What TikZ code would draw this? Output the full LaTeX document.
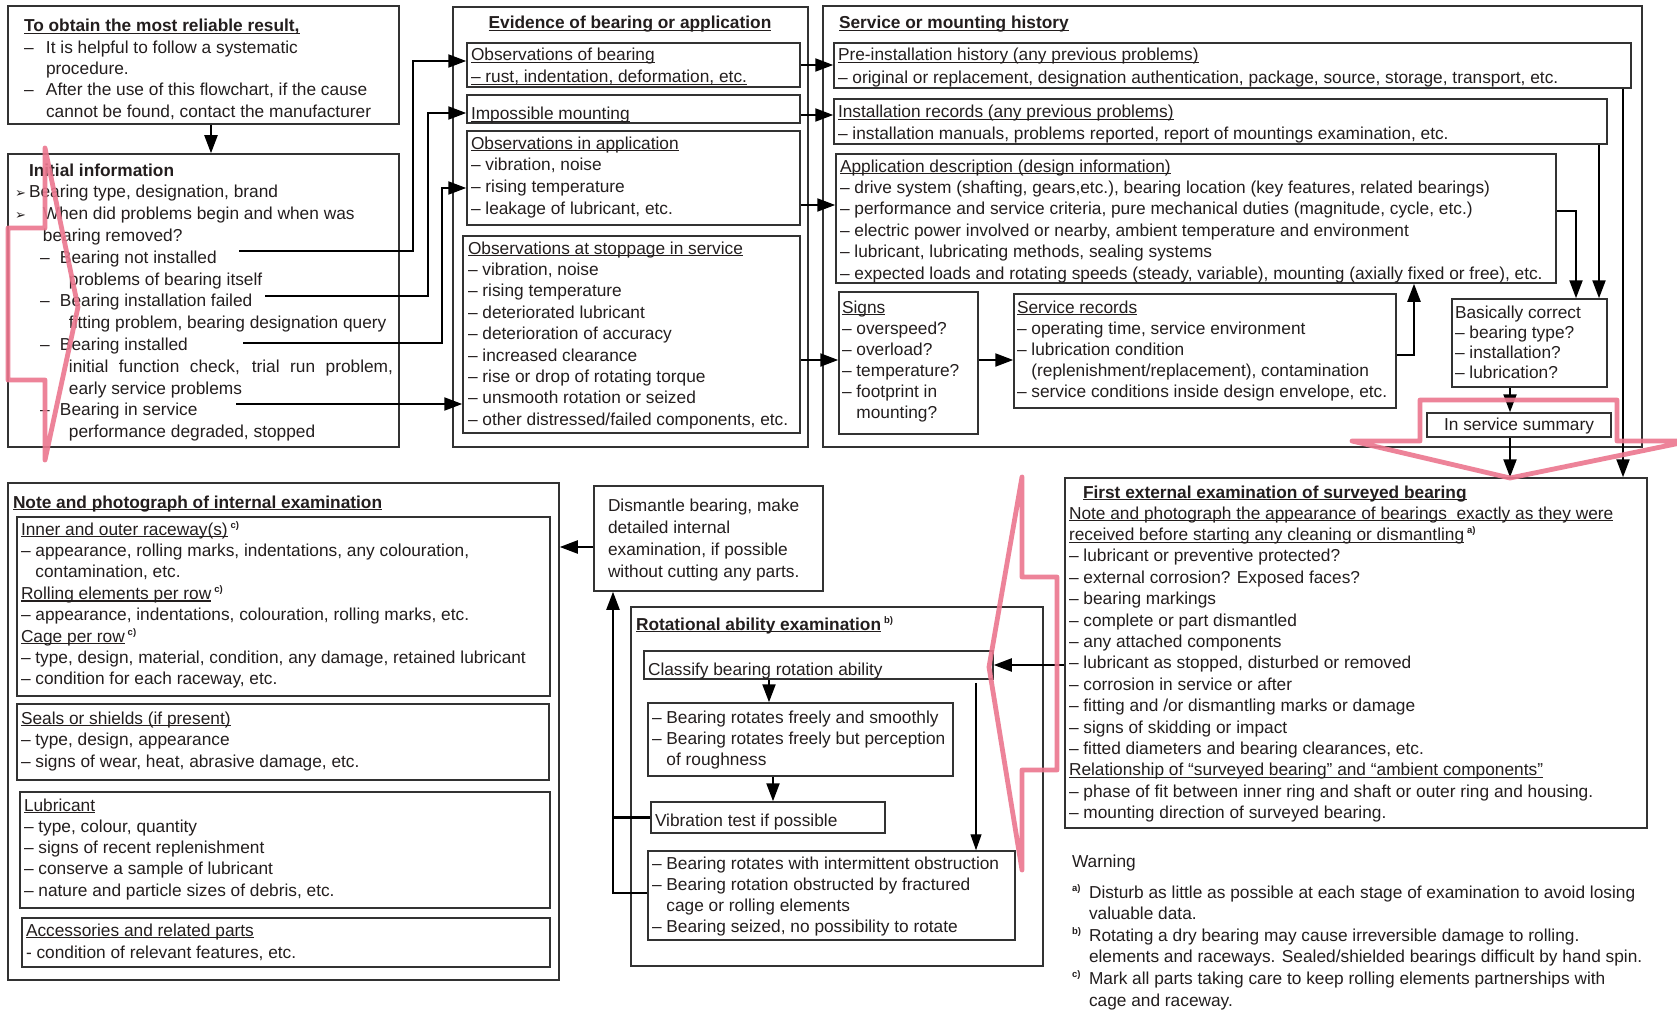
\documentclass[tikz,border=0pt]{standalone}
\usepackage{fontspec}
\setmainfont{Liberation Sans}
\newfontfamily\dejavu{DejaVu Sans}
\usetikzlibrary{arrows.meta,fit}
\definecolor{boxc}{RGB}{50,50,50}
\definecolor{txc}{RGB}{35,30,30}
\definecolor{pinkc}{RGB}{236,118,142}
\newcommand\ulx[1]{\setbox0\hbox{#1}\rlap{\rule[-2.3pt]{\wd0}{1.1pt}}\box0}
\newcommand\sups[1]{\raisebox{6.5pt}{\fontsize{9.5}{9.5}\selectfont\bfseries #1}}
\newcommand\arw{{\dejavu\fontsize{13}{13}\selectfont ➢}}
\newcommand\DD{\makebox[22pt][l]{–}}
\newcommand\II{\hspace*{22pt}}
\newcommand\CC{\hphantom{– }}
\newcommand\TX[5][21.4]{\node[tx,font=\fontsize{17.3}{#1}\selectfont] (#2) at (#3,{#4-0.7*#1}) {\strut #5};}
\begin{document}
\begin{tikzpicture}[x=1pt,y=-1pt,
  bx/.style={draw=boxc,line width=1.5pt,inner sep=0pt,rectangle},
  tx/.style={anchor=north west,inner sep=0pt,outer sep=0pt,align=left,text=txc},
  arr/.style={draw=black,line width=2.2pt,-{Triangle[length=18pt,width=13pt]}},
  ln/.style={draw=black,line width=2.2pt},
  arrthin/.style={draw=black,line width=1.2pt,-{Triangle[length=16pt,width=11pt]}},
  pk/.style={draw=pinkc,line width=4.8pt,line join=round,opacity=0.9}]
\fill[white] (0,0) rectangle (1677,1011);
\useasboundingbox (0,0) rectangle (1677,1011);

% ---------- boxes ----------
\node[bx,fit={(8,6)(399,124)}] (topbox) {};
\node[bx,fit={(8,154)(399,447)}] (initbox) {};
\node[bx,fit={(453,7)(808,447)}] (evid) {};
\node[bx,fit={(467,43)(800,87)}] (obsb) {};
\node[bx,fit={(467,95)(800,123)}] (impm) {};
\node[bx,fit={(467,131)(800,225)}] (obsapp) {};
\node[bx,fit={(463,236)(800,433)}] (obsstop) {};
\node[bx,fit={(823,6)(1642,447)}] (serv) {};
\node[bx,fit={(834,43)(1631,88)}] (preinst) {};
\node[bx,fit={(834,99)(1607,144)}] (instrec) {};
\node[bx,fit={(836,154)(1556,283)}] (appdesc) {};
\node[bx,fit={(839,292)(978,434)}] (signs) {};
\node[bx,fit={(1014,294)(1396,408)}] (servrec) {};
\node[bx,fit={(1452,299)(1607,387)}] (basic) {};
\node[bx,fit={(1427,413)(1611,437)}] (summary) {};
\node[bx,fit={(8,483)(559,980)}] (note) {};
\node[bx,fit={(17,517)(550,696)}] (nb1) {};
\node[bx,fit={(17,704)(549,780)}] (nb2) {};
\node[bx,fit={(20,792)(550,908)}] (nb3) {};
\node[bx,fit={(22,918)(550,967)}] (nb4) {};
\node[bx,fit={(594,486)(823,591)}] (dism) {};
\node[bx,fit={(631,607)(1043,966)}] (rot) {};
\node[bx,fit={(644,651)(993,679)}] (classify) {};
\node[bx,fit={(648,703)(953,776)}] (freely) {};
\node[bx,fit={(651,802)(885,833)}] (vib) {};
\node[bx,fit={(648,851)(1015,940)}] (stuck) {};
\node[bx,fit={(1065,478)(1647,828)}] (firstext) {};

% ---------- texts ----------
\TX[21.3]{ttop}{24}{32}{\textbf{\ulx{To obtain the most reliable result,}}\\
\DD It is helpful to follow a systematic\\
\II procedure.\\
\DD After the use of this flowchart, if the cause\\
\II cannot be found, contact the manufacturer}

\TX[21.8]{tinit}{15}{176}{\hspace*{14pt}\textbf{Initial information}\\
\makebox[14pt][l]{\arw}Bearing type, designation, brand\\
\makebox[28pt][l]{\arw}When did problems begin and when was\\
\hspace*{28pt}bearing removed?\\
\hspace*{25pt}\makebox[20pt][l]{–}Bearing not installed\\
\hspace*{54pt}problems of bearing itself\\
\hspace*{25pt}\makebox[20pt][l]{–}Bearing installation failed\\
\hspace*{54pt}fitting problem, bearing designation query\\
\hspace*{25pt}\makebox[20pt][l]{–}Bearing installed\\
\hspace*{54pt}\makebox[324pt][s]{initial function check, trial run problem,}\\
\hspace*{54pt}early service problems\\
\hspace*{25pt}\makebox[20pt][l]{–}Bearing in service\\
\hspace*{54pt}performance degraded, stopped}

\node[tx,anchor=base,font=\fontsize{17.3}{21.4}\selectfont] (tevid) at (630,29) {\textbf{\ulx{Evidence of bearing or application}}};
\TX[22]{tobsb}{471}{61}{\ulx{Observations of bearing}\\\ulx{– rust, indentation, deformation, etc.}}
\TX{timpm}{471}{120}{\ulx{Impossible mounting}}
\TX[21.7]{tobsapp}{471}{149}{\ulx{Observations in application}\\– vibration, noise\\– rising temperature\\– leakage of lubricant, etc.}
\TX[21.4]{tobsstop}{468}{254}{\ulx{Observations at stoppage in service}\\– vibration, noise\\– rising temperature\\– deteriorated lubricant\\– deterioration of accuracy\\– increased clearance\\– rise or drop of rotating torque\\– unsmooth rotation or seized\\– other distressed/failed components, etc.}

\TX{tserv}{839}{29}{\textbf{\ulx{Service or mounting history}}}
\TX[22.5]{tpre}{838}{61}{\ulx{Pre-installation history (any previous problems)}\\– original or replacement, designation authentication, package, source, storage, transport, etc.}
\TX[21.5]{tinst}{838}{118}{\ulx{Installation records (any previous problems)}\\– installation manuals, problems reported, report of mountings examination, etc.}
\TX[21.4]{tapp}{840}{172}{\ulx{Application description (design information)}\\
– drive system (shafting, gears,etc.), bearing location (key features, related bearings)\\
– performance and service criteria, pure mechanical duties (magnitude, cycle, etc.)\\
– electric power involved or nearby, ambient temperature and environment\\
– lubricant, lubricating methods, sealing systems\\
– expected loads and rotating speeds (steady, variable), mounting (axially fixed or free), etc.}
\TX[21]{tsigns}{842}{313}{\ulx{Signs}\\– overspeed?\\– overload?\\– temperature?\\– footprint in\\\CC mounting?}
\TX[21.2]{tservrec}{1017}{313}{\ulx{Service records}\\– operating time, service environment\\– lubrication condition\\\CC(replenishment/replacement), contamination\\– service conditions inside design envelope, etc.}
\TX[20]{tbasic}{1455}{318}{Basically correct\\– bearing type?\\– installation?\\– lubrication?}
\node[tx,anchor=base,font=\fontsize{17.3}{21.4}\selectfont] (tsum) at (1519,430) {In service summary};

\TX{tnote}{13}{508}{\textbf{\ulx{Note and photograph of internal examination}}}
\TX[21.4]{tnb1}{21}{535}{\ulx{Inner and outer raceway(s)}\,\sups{c)}\\
– appearance, rolling marks, indentations, any colouration,\\
\CC contamination, etc.\\
\ulx{Rolling elements per row}\,\sups{c)}\\
– appearance, indentations, colouration, rolling marks, etc.\\
\ulx{Cage per row}\,\sups{c)}\\
– type, design, material, condition, any damage, retained lubricant\\
– condition for each raceway, etc.}
\TX[21.5]{tnb2}{21}{724}{\ulx{Seals or shields (if present)}\\– type, design, appearance\\– signs of wear, heat, abrasive damage, etc.}
\TX[21.3]{tnb3}{24}{811}{\ulx{Lubricant}\\– type, colour, quantity\\– signs of recent replenishment\\– conserve a sample of lubricant\\– nature and particle sizes of debris, etc.}
\TX[22]{tnb4}{26}{936}{\ulx{Accessories and related parts}\\- condition of relevant features, etc.}

\TX[22.3]{tdism}{608}{511}{Dismantle bearing, make\\detailed internal\\examination, if possible\\without cutting any parts.}
\TX{trot}{636}{630}{\textbf{\ulx{Rotational ability examination}}\,\sups{b)}}
\TX{tclass}{648}{675}{Classify bearing rotation ability}
\TX[21]{tfreely}{652}{723}{– Bearing rotates freely and smoothly\\– Bearing rotates freely but perception\\\CC of roughness}
\TX{tvib}{655}{826}{Vibration test if possible}
\TX[21.3]{tstuck}{652}{869}{– Bearing rotates with intermittent obstruction\\– Bearing rotation obstructed by fractured\\\CC cage or rolling elements\\– Bearing seized, no possibility to rotate}

\TX{tfirst}{1083}{498}{\textbf{\ulx{First external examination of surveyed bearing}}}
\TX[21.4]{tfirstb}{1069}{519}{\ulx{Note and photograph the appearance of bearings\ \ exactly as they were}\\
\ulx{received before starting any cleaning or dismantling}\,\sups{a)}\\
– lubricant or preventive protected?\\
– external corrosion? Exposed faces?\\
– bearing markings\\
– complete or part dismantled\\
– any attached components\\
– lubricant as stopped, disturbed or removed\\
– corrosion in service or after\\
– fitting and /or dismantling marks or damage\\
– signs of skidding or impact\\
– fitted diameters and bearing clearances, etc.\\
\ulx{Relationship of “surveyed bearing” and “ambient components”}\\
– phase of fit between inner ring and shaft or outer ring and housing.\\
– mounting direction of surveyed bearing.}
\TX{twarn}{1072}{867}{Warning}
\TX[21.6]{tfoot}{1072}{898}{\makebox[17pt][l]{\sups{a)}}Disturb as little as possible at each stage of examination to avoid losing\\
\hspace*{17pt}valuable data.\\
\makebox[17pt][l]{\sups{b)}}Rotating a dry bearing may cause irreversible damage to rolling.\\
\hspace*{17pt}elements and raceways. Sealed/shielded bearings difficult by hand spin.\\
\makebox[17pt][l]{\sups{c)}}Mark all parts taking care to keep rolling elements partnerships with\\
\hspace*{17pt}cage and raceway.}

% ---------- connectors ----------
\coordinate (s1) at (239,251);
\coordinate (s2) at (265,296);
\coordinate (s3) at (243,343);
\coordinate (s4) at (236,404);
\draw[arr] ([xshift=7.5pt]topbox.south) -- ([xshift=7.5pt]initbox.north);
\draw[arr] (s1) -- ++(174,0) |- ([yshift=4pt]obsb.west);
\draw[arr] (s2) -- ++(163,0) |- ([yshift=-4pt]impm.west);
\draw[arr] (s3) -- ++(199,0) |- ([yshift=-10pt]obsapp.west);
\draw[arr] (s4) -- (s4 -| obsstop.west);

\draw[arr] (obsb.east) -- (obsb.east -| preinst.west);
\coordinate (c7) at ([yshift=-6pt]impm.east);
\draw[arr] (c7) -- (c7 -| instrec.west);
\coordinate (c8) at ([yshift=-27pt]obsapp.east);
\draw[arr] (c8) -- (c8 -| appdesc.west);
\coordinate (c9) at ([yshift=-25.5pt]obsstop.east);
\draw[arr] (c9) -- (c9 -| signs.west);
\coordinate (c10) at ([yshift=3pt]signs.east);
\draw[arr] (c10) -- (c10 -| servrec.west);
\coordinate (c11) at ([yshift=-4pt]servrec.east);
\draw[arr] (c11) -| ([xshift=218pt]appdesc.south);
\coordinate (c12) at ([yshift=7.5pt]appdesc.east);
\draw[arr] (c12) -| ([xshift=46.5pt]basic.north);
\coordinate (c13) at ([xshift=69.5pt]basic.north);
\draw[arr] (c13 |- instrec.south) -- (c13);
\coordinate (c14) at ([xshift=267pt]firstext.north);
\draw[arr] (c14 |- preinst.south) -- (c14);
\coordinate (c15) at ([xshift=-19.5pt]basic.south);
\draw[arr] (c15) -- (c15 |- summary.north);
\draw[arr] (c15 |- summary.south) -- (c15 |- firstext.north);
\draw[arr] (classify.east -| firstext.west) -- (classify.east);
\coordinate (c18) at ([yshift=-8.5pt]dism.west);
\draw[arr] (c18) -- (c18 -| note.east);
\coordinate (c19) at ([xshift=-49.5pt]classify.south);
\draw[arr] (c19) -- (c19 |- freely.north);
\coordinate (c20) at ([xshift=-27.5pt]freely.south);
\draw[arr] (c20) -- (c20 |- vib.north);
\coordinate (c21) at ([xshift=157.5pt,yshift=-3pt]classify.south);
\draw[arrthin] (c21) -- (c21 |- stuck.north);
\coordinate (c22) at ([xshift=-95.5pt]dism.south);
\draw[arr] ([yshift=2.5pt]stuck.west) -| (c22);
\draw[ln] (vib.west) -- (vib.west -| c22);

% ---------- pink block arrows ----------
\draw[pk] (45,148) -- (78,307) -- (45,460) -- (45,380) -- (8,380) -- (8,228) -- (45,228) -- cycle;
\draw[pk] (1022,477) -- (1022,577) -- (1057,577) -- (1057,770) -- (1022,770) -- (1022,870) -- (989,667) -- cycle;
\draw[pk] (1352,441) -- (1420,441) -- (1420,400) -- (1617,400) -- (1617,441) -- (1690,441) -- (1510,478) -- cycle;
\end{tikzpicture}
\end{document}
